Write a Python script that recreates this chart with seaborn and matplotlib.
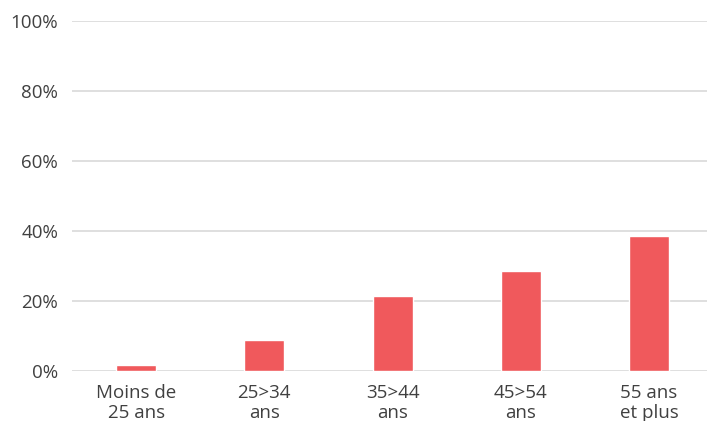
import matplotlib
matplotlib.use("Agg")
import matplotlib.pyplot as plt
import seaborn as sns

# Données
categories = ["Moins de\n25 ans", "25>34\nans", "35>44\nans", "45>54\nans", "55 ans\net plus"]
valeurs = [1.8, 9.0, 21.5, 28.7, 38.7]
yticks = [0, 20, 40, 60, 80, 100]
ytick_labels = ["0%", "20%", "40%", "60%", "80%", "100%"]

sns.set_style("white")
plt.rcParams['font.family'] = ['Open Sans', 'DejaVu Sans']

fig = plt.figure(figsize=(7.07, 4.21), dpi=100)
ax = fig.add_axes([72 / 707, 1 - 371 / 421, (707 - 72) / 707, 350 / 421])

sns.barplot(x=categories, y=valeurs, color="#F0595C", width=0.3125,
            saturation=1, ax=ax, zorder=3)

ax.set_ylim(0, 100)
ax.set_xlim(-0.5, 4.452)
ax.set_yticks(yticks)
ax.set_yticklabels(ytick_labels)
ax.yaxis.grid(True, color="#D9D9D9", linewidth=1.2, zorder=0)
ax.set_axisbelow(True)
for s in ax.spines.values():
    s.set_visible(False)
ax.tick_params(axis='both', length=0, labelsize=13.5, colors="#404040")
ax.tick_params(axis='y', pad=10)
ax.tick_params(axis='x', pad=9)
for lbl in ax.get_xticklabels():
    lbl.set_linespacing(1.15)
ax.set_xlabel("")
ax.set_ylabel("")

fig.savefig("out.png", dpi=100)
